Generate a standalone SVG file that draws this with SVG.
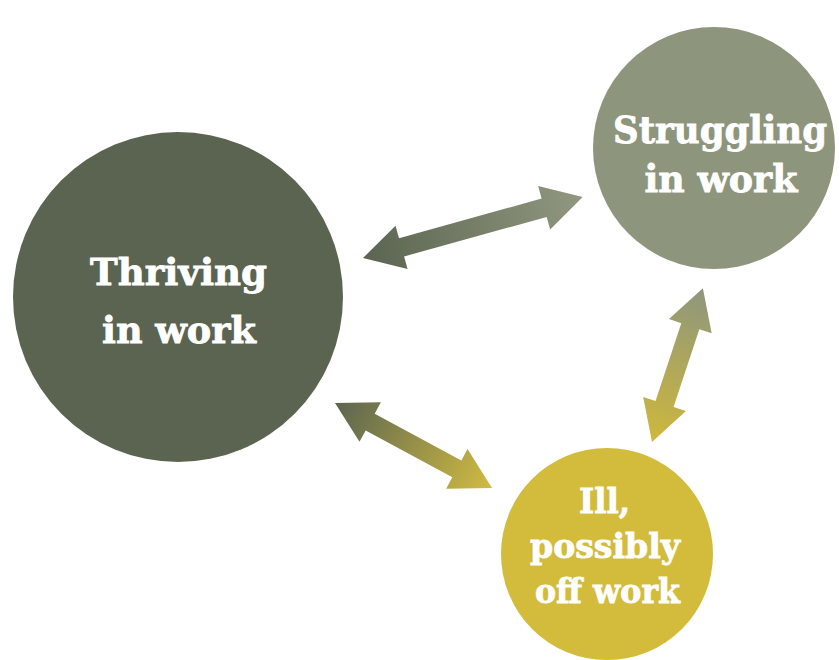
<svg xmlns="http://www.w3.org/2000/svg" width="839" height="660" viewBox="0 0 839 660">
  <style>
    .lbl { font-family: "DejaVu Serif", "Liberation Serif", serif; font-weight: bold; fill: #ffffff; stroke: #ffffff; stroke-width: 0.8; text-anchor: middle; }
  </style>
  <defs>
    <linearGradient id="g1" gradientUnits="userSpaceOnUse" x1="0" y1="0" x2="228" y2="0">
      <stop offset="0" stop-color="#5b6450"/>
      <stop offset="1" stop-color="#909880"/>
    </linearGradient>
    <linearGradient id="g2" gradientUnits="userSpaceOnUse" x1="0" y1="0" x2="178.5" y2="0">
      <stop offset="0" stop-color="#5b6450"/>
      <stop offset="1" stop-color="#d0bb42"/>
    </linearGradient>
    <linearGradient id="g3" gradientUnits="userSpaceOnUse" x1="0" y1="0" x2="162" y2="0">
      <stop offset="0" stop-color="#cfb83c"/>
      <stop offset="1" stop-color="#8e967d"/>
    </linearGradient>
  </defs>
  <g id="connectors">
    <path transform="translate(363,258) rotate(-15.5)" fill="url(#g1)" d="M0,0 L40,-22.5 L40,-9.5 L188,-9.5 L188,-22.5 L228,0 L188,22.5 L188,9.5 L40,9.5 L40,22.5 Z"/>
    <path transform="translate(335,403) rotate(28.4)" fill="url(#g2)" d="M0,0 L40,-22.5 L40,-9.5 L138.5,-9.5 L138.5,-22.5 L178.5,0 L138.5,22.5 L138.5,9.5 L40,9.5 L40,22.5 Z"/>
    <path transform="translate(652,442) rotate(-71.7)" fill="url(#g3)" d="M0,0 L40,-22.5 L40,-9.5 L122,-9.5 L122,-22.5 L162,0 L122,22.5 L122,9.5 L40,9.5 L40,22.5 Z"/>
  </g>
  <g id="thriving">
    <circle cx="178" cy="297" r="165" fill="#5b6450"/>
    <text class="lbl" x="178.5" y="285" font-size="37" textLength="177" lengthAdjust="spacingAndGlyphs">Thriving</text>
    <text class="lbl" x="179" y="343" font-size="37" textLength="154" lengthAdjust="spacingAndGlyphs">in work</text>
  </g>
  <g id="struggling">
    <circle cx="714" cy="148" r="121" fill="#8e957d"/>
    <text class="lbl" x="720" y="143" font-size="38" textLength="214" lengthAdjust="spacingAndGlyphs">Struggling</text>
    <text class="lbl" x="721" y="192" font-size="38" textLength="153" lengthAdjust="spacingAndGlyphs">in work</text>
  </g>
  <g id="ill">
    <circle cx="607" cy="554" r="106" fill="#d3bc3b"/>
    <text class="lbl" x="604.5" y="513" font-size="33" textLength="51" lengthAdjust="spacingAndGlyphs">Ill,</text>
    <text class="lbl" x="605" y="558" font-size="33" textLength="150" lengthAdjust="spacingAndGlyphs">possibly</text>
    <text class="lbl" x="607.5" y="603" font-size="33" textLength="145" lengthAdjust="spacingAndGlyphs">off work</text>
  </g>
</svg>
